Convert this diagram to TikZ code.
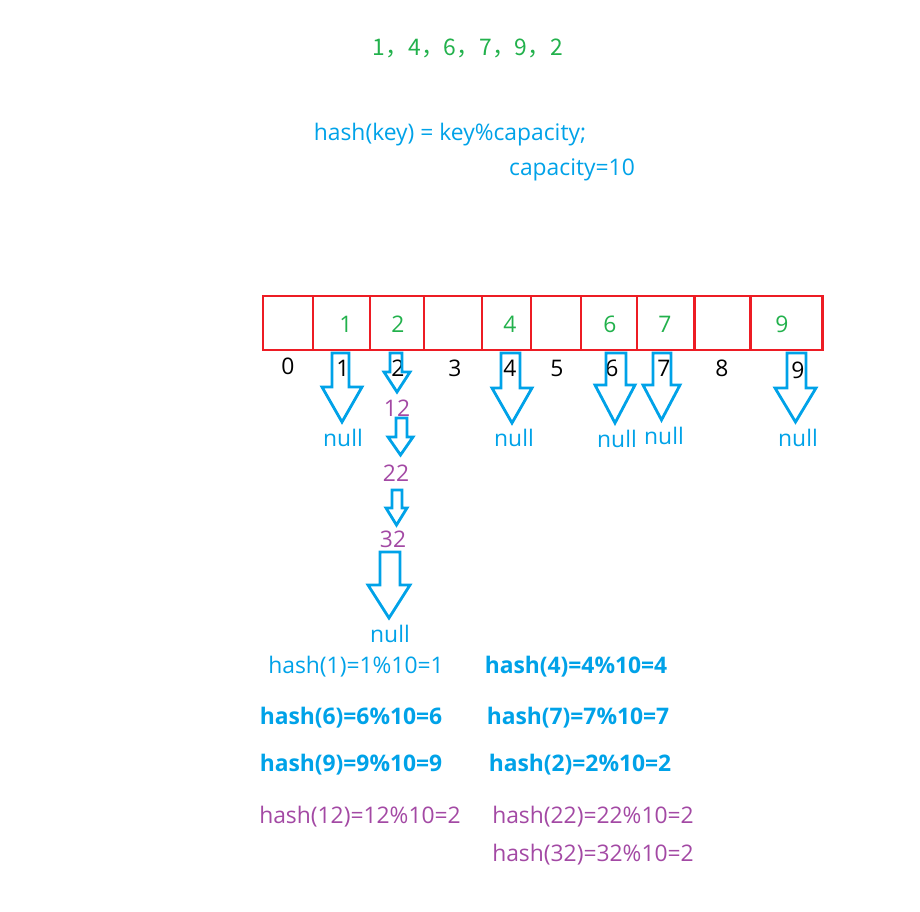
\documentclass[tikz,border=0pt]{standalone}
\usepackage{fontspec}
\setmainfont{Open Sans}
\newfontfamily\cjk{Noto Sans CJK SC}
\usetikzlibrary{positioning}
\definecolor{paintred}{RGB}{237,28,36}
\definecolor{paintgreen}{RGB}{34,177,76}
\definecolor{paintblue}{RGB}{0,162,232}
\definecolor{paintpurple}{RGB}{163,73,164}

% hollow block arrow: shaft left, shaft right, top, head left, head right, shoulder, tip
\newcommand{\blockarrow}[7]{%
  \draw[hollow] (#1,#3) -- (#2,#3) -- (#2,#6) -- (#5,#6) -- ({(#4+#5)/2},#7)
    -- (#4,#6) -- (#1,#6) -- cycle;}

\begin{document}
\begin{tikzpicture}[
    x=0.02cm, y=-0.02cm,
    cellline/.style={draw=paintred, line width=1.7pt},
    hollow/.style={draw=paintblue, line width=1.6pt, line join=miter},
    keytxt/.style={text=paintgreen, font=\fontsize{13}{15}\selectfont, inner sep=0pt},
    idx/.style={text=black, font=\fontsize{13}{15}\selectfont, inner sep=0pt},
    nulltxt/.style={text=paintblue, font=\fontsize{13}{15}\selectfont, inner sep=0pt},
    chain/.style={text=paintpurple, font=\fontsize{13}{15}\selectfont, inner sep=0pt},
    formula/.style={text=paintblue, font=\fontsize{13}{15}\selectfont, inner sep=0pt},
    formulab/.style={formula, font=\fontsize{13}{15}\selectfont\bfseries},
    formulap/.style={formula, text=paintpurple}
  ]
  \useasboundingbox (0,0) rectangle (920,912);

  % keys and hash rule
  \node[keytxt, font=\fontsize{13}{15}\selectfont\cjk] (keys) at (468,48) {1，4，6，7，9，2};
  \node[formula] (rule) at (450,135) {hash(key) = key\%capacity;};
  \node[formula] (cap) at (572,170) {capacity=10};

  % the table
  \foreach \l/\r in {263/313, 313/370, 370/424, 424/482, 482/531, 531/581, 581/637, 637/694, 694/750, 750/822}
    \draw[cellline] (\l,296) rectangle (\r,350);
  \foreach \x/\v in {346/1, 398/2, 510/4, 610/6, 665/7, 782/9}
    \node[keytxt] (key\v) at (\x,324) {\v};
  \foreach \x/\y [count=\i from 0] in {288/366, 343/368, 398/368, 455/368, 510/368, 557/368, 612/368, 664/368, 722/368, 798/370}
    \node[idx] (idx\i) at (\x,\y) {\i};

  % buckets
  \blockarrow{332}{349}{353}{322}{362}{387}{422}
  \blockarrow{501}{520}{353}{492}{532}{388}{423}
  \blockarrow{606}{626}{353}{595}{635}{385}{423}
  \blockarrow{653}{671}{353}{643}{680}{385}{420}
  \blockarrow{787}{806}{353}{775}{816}{388}{422}
  \node[nulltxt] (null1) at (343,438) {null};
  \node[nulltxt] (null4) at (514,438) {null};
  \node[nulltxt] (null6) at (617,439) {null};
  \node[nulltxt] (null7) at (664,436) {null};
  \node[nulltxt] (null9) at (798,438) {null};

  % chain of bucket 2
  \blockarrow{390}{402}{353}{384}{410}{372}{392}
  \node[chain] (k12) at (397,408) {12};
  \blockarrow{396}{407}{418}{388}{413}{437}{455}
  \node[chain] (k22) at (396,473) {22};
  \blockarrow{392}{402}{490}{386}{407}{508}{525}
  \node[chain] (k32) at (393,539) {32};
  \blockarrow{380}{400}{552}{368}{410}{585}{618}
  \node[nulltxt] (null2) at (390,634) {null};

  % hash values
  \node[formula] (h1) at (356,667) {hash(1)=1\%10=1};
  \node[formulab] (h4) at (576,667) {hash(4)=4\%10=4};
  \node[formulab] (h6) at (351,718) {hash(6)=6\%10=6};
  \node[formulab] (h7) at (578,718) {hash(7)=7\%10=7};
  \node[formulab] (h9) at (351,765) {hash(9)=9\%10=9};
  \node[formulab] (h2) at (580,765) {hash(2)=2\%10=2};
  \node[formulap] (h12) at (360,817) {hash(12)=12\%10=2};
  \node[formulap] (h22) at (593,817) {hash(22)=22\%10=2};
  \node[formulap] (h32) at (593,855) {hash(32)=32\%10=2};
\end{tikzpicture}
\end{document}
